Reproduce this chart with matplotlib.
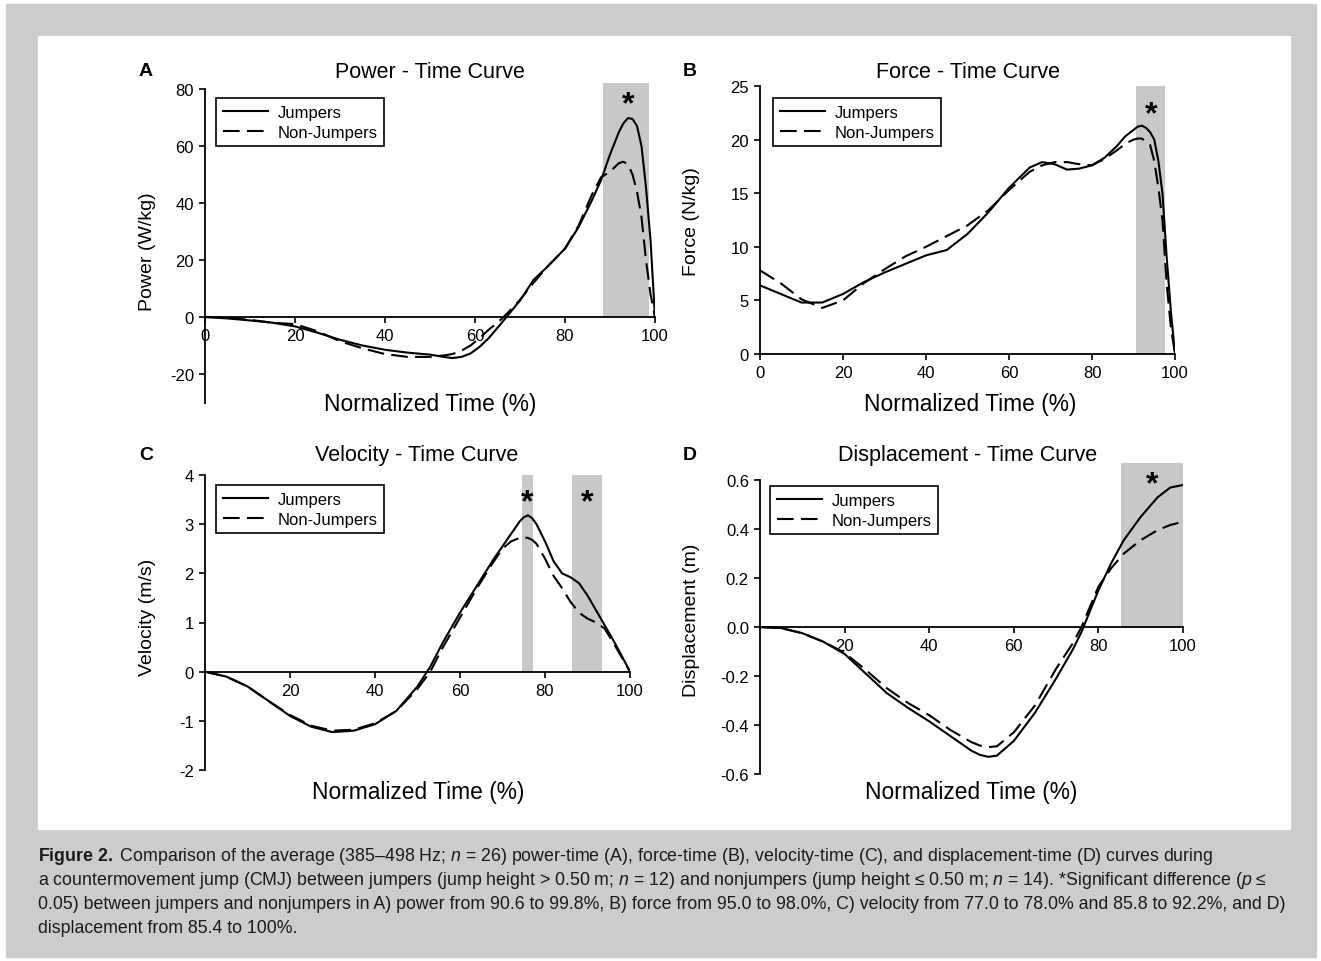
import matplotlib
matplotlib.use("Agg")
import matplotlib.pyplot as plt
from matplotlib.patches import Rectangle

plt.rcParams['font.family'] = ['Liberation Sans', 'DejaVu Sans']
plt.rcParams['mathtext.fontset'] = 'custom'
plt.rcParams['mathtext.rm'] = 'Liberation Sans'
plt.rcParams['mathtext.it'] = 'Liberation Sans:italic'
plt.rcParams['mathtext.bf'] = 'Liberation Sans:bold'

# ---- data ----
# A) power (W/kg)
power_t = [0, 5, 10, 15, 20, 25, 30, 35, 40, 45, 50, 53, 55, 57, 59, 61, 63, 65, 67, 70, 73,
           76, 80, 83, 86, 88, 90, 91, 92, 93, 94, 95, 96, 97, 98, 99, 100]
power_jump = [0, -0.5, -1.2, -2, -3.3, -5.5, -8, -10, -11.5, -12.5, -13.2, -14, -14.4, -14,
              -12.8, -10.5, -7.5, -3.8, 0, 5.8, 13, 17.5, 24, 31.5, 41, 48, 57, 61, 65, 68,
              69.8, 69.5, 67, 60, 45.5, 27, 0]
power_non = [0, -0.3, -1, -2, -2.5, -5, -8.5, -11, -13, -14, -14, -13.5, -13, -11.8, -10,
             -7.5, -4.5, -2, 1, 6, 12, 17.5, 24, 32, 43, 49, 51, 52.5, 54, 54.5, 53.5, 50, 44,
             35, 20, 8, 0]

# B) force (N/kg)
force_t = [0, 5, 10, 15, 20, 25, 30, 35, 40, 45, 50, 55, 60, 65, 68, 71, 74, 77, 80, 83, 86,
           88, 90, 91, 92, 93, 94, 95, 96, 97, 98, 99, 100]
force_jump = [6.4, 5.6, 4.8, 4.8, 5.6, 6.7, 7.6, 8.4, 9.2, 9.7, 11.2, 13.2, 15.5, 17.4, 17.9,
              17.7, 17.2, 17.3, 17.6, 18.3, 19.4, 20.3, 20.9, 21.2, 21.3, 21.1, 20.7, 20.0,
              18.0, 14.9, 9.0, 4.0, 0]
force_non = [7.8, 6.6, 5.1, 4.3, 5.0, 6.6, 7.9, 9.1, 10.0, 11.0, 12.0, 13.4, 15.3, 17.0, 17.6,
             17.9, 17.9, 17.7, 17.6, 18.2, 19.0, 19.6, 20.0, 20.1, 20.1, 19.8, 19.5, 18.0,
             15.5, 12.4, 6.5, 2.5, 0]

# C) velocity (m/s)
vel_t = [0, 5, 10, 15, 20, 25, 30, 35, 40, 45, 50, 53, 56, 60, 64, 68, 70, 72, 74, 75, 76, 77,
         78, 80, 82, 84, 86, 88, 90, 92, 94, 96, 98, 100]
vel_jump = [0, -0.1, -0.3, -0.6, -0.9, -1.12, -1.23, -1.2, -1.07, -0.8, -0.3, 0.1, 0.6, 1.2,
            1.75, 2.3, 2.55, 2.8, 3.05, 3.14, 3.18, 3.12, 3.0, 2.65, 2.25, 2.0, 1.92, 1.8,
            1.55, 1.25, 0.95, 0.65, 0.33, 0]
vel_non = [0, -0.1, -0.3, -0.6, -0.88, -1.1, -1.2, -1.18, -1.05, -0.8, -0.35, 0.0, 0.5, 1.1,
           1.7, 2.25, 2.5, 2.65, 2.72, 2.73, 2.72, 2.68, 2.6, 2.3, 1.95, 1.7, 1.42, 1.2, 1.08,
           1.0, 0.88, 0.6, 0.3, 0]

# D) displacement (m)
disp_t = [0, 5, 10, 15, 20, 25, 30, 35, 40, 45, 50, 52, 54, 56, 60, 65, 70, 74, 76, 80, 83,
          86, 90, 94, 97, 100]
disp_jump = [0, -0.004, -0.025, -0.06, -0.11, -0.19, -0.27, -0.33, -0.385, -0.445, -0.505,
             -0.522, -0.53, -0.525, -0.465, -0.35, -0.21, -0.09, -0.02, 0.15, 0.26, 0.355,
             0.45, 0.53, 0.57, 0.58]
disp_non = [0, -0.004, -0.025, -0.06, -0.105, -0.175, -0.25, -0.31, -0.36, -0.42, -0.47,
            -0.484, -0.49, -0.487, -0.43, -0.32, -0.17, -0.065, 0.0, 0.165, 0.24, 0.3, 0.355,
            0.396, 0.417, 0.43]

# significant regions (start, end) in % time
power_sig = [(88.4, 98.6)]
force_sig = [(90.5, 97.5)]
vel_sig = [(74.6, 77.2), (86.4, 93.4)]
disp_sig = [(85.4, 100)]

W, H = 1321, 962
fig = plt.figure(figsize=(W / 100, H / 100), dpi=100)
fig.patch.set_facecolor('white')


def px_rect(x0, y0, x1, y1):
    return [x0 / W, 1 - y1 / H, (x1 - x0) / W, (y1 - y0) / H]


def fx(x):
    return x / W


def fy(y):
    return 1 - y / H


# gray page and white figure area
fig.add_artist(Rectangle((fx(6), fy(958)), (1316 - 6) / W, (958 - 5) / H,
                         transform=fig.transFigure, color='#cccccc', zorder=-10))
fig.add_artist(Rectangle((fx(38), fy(830)), (1290 - 38) / W, (830 - 37) / H,
                         transform=fig.transFigure, color='white', zorder=-9))

panels = [
    dict(box=(205, 84.3, 655, 403.5), t=power_t, j=power_jump, n=power_non, sig=power_sig,
         ylim=(-30, 82), ybounds=(-30, 80), yticks=[-20, 0, 20, 40, 60, 80],
         xticks=[0, 20, 40, 60, 80, 100], fmt='{:.0f}', zero=True,
         title='Power - Time Curve', letter='A', ylabel='Power (W/kg)',
         title_xy=(430, 72), letter_xy=(146, 72), ylabel_xy=(148, 252), xlabel_xy=(430, 405),
         leg=(216, 99), stars=[(94, 74.7)]),
    dict(box=(760, 87, 1175, 355), t=force_t, j=force_jump, n=force_non, sig=force_sig,
         ylim=(0, 25), ybounds=(0, 25), yticks=[0, 5, 10, 15, 20, 25],
         xticks=[0, 20, 40, 60, 80, 100], fmt='{:.0f}', zero=False,
         title='Force - Time Curve', letter='B', ylabel='Force (N/kg)',
         title_xy=(968, 72), letter_xy=(690, 72), ylabel_xy=(692, 222), xlabel_xy=(970, 405),
         leg=(773, 99), stars=[(94.2, 22.35)]),
    dict(box=(205, 476, 630, 771), t=vel_t, j=vel_jump, n=vel_non, sig=vel_sig,
         ylim=(-2, 4), ybounds=(-2, 4), yticks=[-2, -1, 0, 1, 2, 3, 4],
         xticks=[20, 40, 60, 80, 100], fmt='{:.0f}', zero=True,
         title='Velocity - Time Curve', letter='C', ylabel='Velocity (m/s)',
         title_xy=(417, 455), letter_xy=(146, 455), ylabel_xy=(148, 617), xlabel_xy=(418, 792),
         leg=(216, 486), stars=[(75.9, 3.44), (89.9, 3.44)]),
    dict(box=(760, 464, 1183, 775), t=disp_t, j=disp_jump, n=disp_non, sig=disp_sig,
         ylim=(-0.6, 0.67), ybounds=(-0.6, 0.6), yticks=[-0.6, -0.4, -0.2, 0.0, 0.2, 0.4, 0.6],
         xticks=[20, 40, 60, 80, 100], fmt='{:.1f}', zero=True,
         title='Displacement - Time Curve', letter='D', ylabel='Displacement (m)',
         title_xy=(968, 455), letter_xy=(690, 455), ylabel_xy=(692, 620), xlabel_xy=(971, 792),
         leg=(770, 487), stars=[(92.7, 0.585)]),
]

for p in panels:
    x0, y0, x1, y1 = p['box']
    ax = fig.add_axes(px_rect(x0, y0, x1, y1))
    ax.set_facecolor('none')
    top = p['ylim'][1]
    for a, b in p['sig']:
        # shading runs from the zero line up to the top of the panel
        ax.fill_between([a, b], 0, top, color='#c8c8c8', lw=0, zorder=0)
    ax.plot(p['t'], p['j'], color='black', lw=1.5, label='Jumpers', zorder=3)
    ax.plot(p['t'], p['n'], color='black', lw=1.5, dashes=(8, 3.5), label='Non-Jumpers', zorder=3)
    for sx, sy in p['stars']:
        ax.text(sx, sy, '*', fontsize=23, fontweight='bold', ha='center', va='center', zorder=4)

    ax.set_xlim(0, 100)
    ax.set_ylim(*p['ylim'])
    ax.spines['top'].set_visible(False)
    ax.spines['right'].set_visible(False)
    if p['zero']:
        ax.spines['bottom'].set_position(('data', 0))
    ax.spines['left'].set_bounds(*p['ybounds'])
    for s in ('left', 'bottom'):
        ax.spines[s].set_linewidth(1.3)
    ax.set_yticks(p['yticks'])
    ax.set_yticklabels([p['fmt'].format(v) for v in p['yticks']])
    ax.set_xticks(p['xticks'])
    ax.set_xticklabels([str(v) for v in p['xticks']])
    ax.tick_params(direction='out', length=4, width=1.2, labelsize=12, pad=4)

    leg_x = (p['leg'][0] - x0) / (x1 - x0)
    leg_y = (y1 - p['leg'][1]) / (y1 - y0)
    leg = ax.legend(loc='upper left', bbox_to_anchor=(leg_x, leg_y), borderaxespad=0,
                    fontsize=12, handlelength=2.7, handletextpad=0.6, fancybox=False,
                    framealpha=1, edgecolor='black', borderpad=0.4, labelspacing=0.3)
    leg.get_frame().set_linewidth(1.2)

    fig.text(fx(p['title_xy'][0]), fy(p['title_xy'][1]), p['title'], fontsize=15.5,
             ha='center', va='center')
    fig.text(fx(p['letter_xy'][0]), fy(p['letter_xy'][1]), p['letter'], fontsize=14,
             fontweight='bold', ha='center', va='center')
    fig.text(fx(p['ylabel_xy'][0]), fy(p['ylabel_xy'][1]), p['ylabel'], fontsize=14,
             rotation=90, ha='center', va='center')
    fig.text(fx(p['xlabel_xy'][0]), fy(p['xlabel_xy'][1]), 'Normalized Time (%)', fontsize=16.4,
             ha='center', va='center')

caption = [
    r"$\bf{Figure\ 2.}\ $Comparison of the average (385–498 Hz; $n$ = 26) power-time (A), "
    r"force-time (B), velocity-time (C), and displacement-time (D) curves during",
    r"a countermovement jump (CMJ) between jumpers (jump height > 0.50 m; $n$ = 12) and "
    r"nonjumpers (jump height ≤ 0.50 m; $n$ = 14). *Significant difference ($p$ ≤",
    "0.05) between jumpers and nonjumpers in A) power from 90.6 to 99.8%, B) force from 95.0 "
    "to 98.0%, C) velocity from 77.0 to 78.0% and 85.8 to 92.2%, and D)",
    "displacement from 85.4 to 100%.",
]
cap_y = [857, 881, 905, 929]
for line, y in zip(caption, cap_y):
    fig.text(fx(38), fy(y), line, fontsize=12.8, color='#1a1a1a', ha='left', va='center')

fig.savefig('out.png', dpi=100)
